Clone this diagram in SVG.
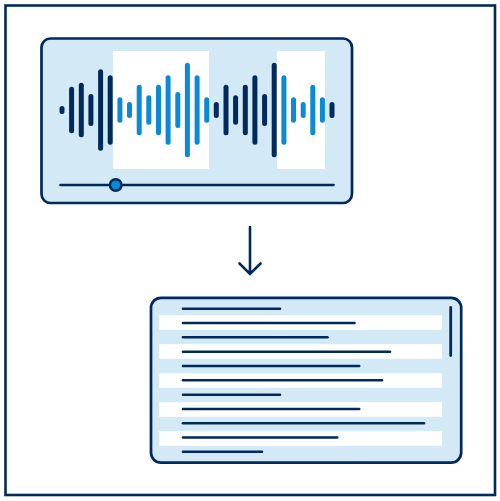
<svg xmlns="http://www.w3.org/2000/svg" width="500" height="501" viewBox="0 0 500 501">
<style>
.frame{fill:none;stroke:#002a5c;stroke-width:2.6}
.panel{fill:#d4e9f6;stroke:#002a5c;stroke-width:2.7}
.hl{fill:#ffffff}
.bd{stroke:#002a5c;stroke-width:5;stroke-linecap:round}
.bl{stroke:#0a8ad6;stroke-width:5;stroke-linecap:round}
.ln{stroke:#002a5c;stroke-width:2.6;stroke-linecap:round;fill:none}
</style>
<rect class="frame" x="5.5" y="5.5" width="489.5" height="489.5"/>
<g id="audio">
<rect class="panel" x="41.5" y="38.5" width="310.5" height="164.5" rx="9"/>
<rect class="hl" x="113" y="51" width="96" height="118"/>
<rect class="hl" x="277" y="51" width="48" height="118"/>
<g class="bd">
<line x1="62" y1="108.5" x2="62" y2="111.5"/>
<line x1="71.6" y1="89.2" x2="71.6" y2="130.8"/>
<line x1="81.3" y1="85.2" x2="81.3" y2="134.8"/>
<line x1="90.9" y1="96.5" x2="90.9" y2="123.5"/>
<line x1="100.6" y1="71.8" x2="100.6" y2="148.2"/>
<line x1="110.2" y1="77.8" x2="110.2" y2="142.2"/>
<line x1="216.3" y1="104.5" x2="216.3" y2="115.5"/>
<line x1="226" y1="87.2" x2="226" y2="132.8"/>
<line x1="235.6" y1="97.8" x2="235.6" y2="122.2"/>
<line x1="245.3" y1="87.2" x2="245.3" y2="132.8"/>
<line x1="254.9" y1="77.8" x2="254.9" y2="142.2"/>
<line x1="264.6" y1="96.5" x2="264.6" y2="123.5"/>
<line x1="274.2" y1="65.2" x2="274.2" y2="154.8"/>
<line x1="332" y1="104.5" x2="332" y2="115.5"/>
</g>
<g class="bl">
<line x1="119.9" y1="99.8" x2="119.9" y2="120.2"/>
<line x1="129.5" y1="104.5" x2="129.5" y2="115.5"/>
<line x1="139.2" y1="87.2" x2="139.2" y2="132.8"/>
<line x1="148.8" y1="97.8" x2="148.8" y2="122.2"/>
<line x1="158.5" y1="87.2" x2="158.5" y2="132.8"/>
<line x1="168.1" y1="77.8" x2="168.1" y2="142.2"/>
<line x1="177.8" y1="94.5" x2="177.8" y2="125.5"/>
<line x1="187.4" y1="65.2" x2="187.4" y2="154.8"/>
<line x1="197.1" y1="77.8" x2="197.1" y2="142.2"/>
<line x1="206.7" y1="99.8" x2="206.7" y2="120.2"/>
<line x1="283.9" y1="77.8" x2="283.9" y2="142.2"/>
<line x1="293.5" y1="99.8" x2="293.5" y2="120.2"/>
<line x1="303.2" y1="104.5" x2="303.2" y2="115.5"/>
<line x1="312.8" y1="87.2" x2="312.8" y2="132.8"/>
<line x1="322.4" y1="99.8" x2="322.4" y2="120.2"/>
</g>
<line class="ln" x1="60.5" y1="185" x2="333.5" y2="185"/>
<circle cx="115.7" cy="185" r="5.8" fill="#0a8ad6" stroke="#002a5c" stroke-width="2.5"/>
</g>
<g id="connectors">
<path class="ln" d="M250 227 V273.5 M239.5 263.5 L250 274 L260.5 263.5"/>
</g>
<g id="transcript">
<rect class="panel" x="151" y="297.8" width="310.2" height="164.8" rx="10"/>
<rect class="hl" x="159" y="315.2" width="283" height="14.6"/>
<rect class="hl" x="159" y="344.2" width="283" height="14.6"/>
<rect class="hl" x="159" y="373.2" width="283" height="14.6"/>
<rect class="hl" x="159" y="402.2" width="283" height="14.6"/>
<rect class="hl" x="159" y="431.2" width="283" height="14.6"/>
<g class="ln">
<line x1="183" y1="308.7" x2="280" y2="308.7"/>
<line x1="183" y1="323" x2="354.5" y2="323"/>
<line x1="183" y1="337.3" x2="327.5" y2="337.3"/>
<line x1="183" y1="351.7" x2="390" y2="351.7"/>
<line x1="183" y1="366" x2="359.2" y2="366"/>
<line x1="183" y1="380.3" x2="382" y2="380.3"/>
<line x1="183" y1="394.7" x2="280" y2="394.7"/>
<line x1="183" y1="409" x2="359.2" y2="409"/>
<line x1="183" y1="423.3" x2="424" y2="423.3"/>
<line x1="183" y1="437.5" x2="337.2" y2="437.5"/>
<line x1="183" y1="451.7" x2="262" y2="451.7"/>
<line x1="450.7" y1="307.5" x2="450.7" y2="355.5" stroke-width="2.8"/>
</g>
</g>
</svg>
